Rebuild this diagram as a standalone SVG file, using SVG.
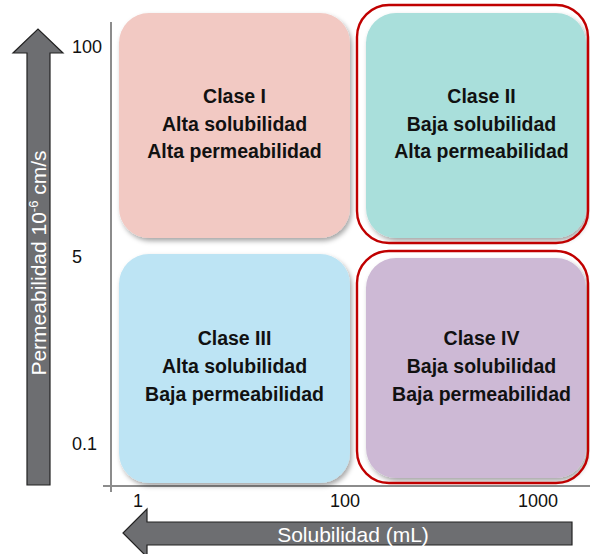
<svg xmlns="http://www.w3.org/2000/svg" width="590" height="554" viewBox="0 0 590 554">
<style>
.box{stroke:none;filter:url(#sh)}
.red{fill:none;stroke:#c00000;stroke-width:2.4}
.t{font-family:"Liberation Sans",Arial,sans-serif;font-weight:bold;font-size:19.5px;fill:#111;text-anchor:middle}
.ax{font-family:"Liberation Sans",Arial,sans-serif;font-size:18px;fill:#111}
.arr{fill:#6d6e71;stroke:#222;stroke-width:1.2}
.lab{font-family:"Liberation Sans",Arial,sans-serif;font-size:21px;fill:#fff}
</style>
<defs>
<filter id="sh" x="-10%" y="-10%" width="125%" height="125%">
<feDropShadow dx="2" dy="3" stdDeviation="2.5" flood-color="#000" flood-opacity="0.35"/>
</filter>
</defs>
<rect width="590" height="554" fill="#fff"/>
<g id="connectors">
<line x1="111" y1="22" x2="111" y2="492" stroke="#8c8c8c" stroke-width="2"/>
<line x1="103" y1="486" x2="590" y2="486" stroke="#8c8c8c" stroke-width="2"/>
</g>
<g id="yaxis">
<path class="arr" d="M27,485 L27,53 L13,53 L38,29 L63,53 L50,53 L50,485 Z"/>
<text class="lab" transform="translate(46,263) rotate(-90)" text-anchor="middle">Permeabilidad 10<tspan font-size="13" dy="-8">-6</tspan><tspan dy="8"> cm/s</tspan></text>
<text class="ax" x="72" y="53">100</text>
<text class="ax" x="72" y="263">5</text>
<text class="ax" x="72" y="450">0.1</text>
</g>
<g id="xaxis">
<path class="arr" d="M572,522 L147,522 L147,509 L123,533 L147,557 L147,545 L572,545 Z"/>
<text class="lab" x="353" y="542" text-anchor="middle" font-size="21.5">Solubilidad (mL)</text>
<text class="ax" x="138" y="507" text-anchor="middle">1</text>
<text class="ax" x="345" y="507" text-anchor="middle">100</text>
<text class="ax" x="538" y="507" text-anchor="middle">1000</text>
</g>
<g id="clase1">
<rect class="box" x="119" y="13" width="231" height="225" rx="30" fill="#f2c9c3"/>
<text class="t" x="234.5" y="103">Clase I</text>
<text class="t" x="234.5" y="131">Alta solubilidad</text>
<text class="t" x="234.5" y="158">Alta permeabilidad</text>
</g>
<g id="clase2">
<rect class="box" x="366" y="13" width="220" height="225" rx="30" fill="#a9dfdb"/>
<rect class="red" x="357" y="5" width="231" height="238" rx="32"/>
<text class="t" x="481.5" y="103">Clase II</text>
<text class="t" x="481.5" y="131">Baja solubilidad</text>
<text class="t" x="481.5" y="158">Alta permeabilidad</text>
</g>
<g id="clase3">
<rect class="box" x="119" y="254" width="231" height="229" rx="30" fill="#bde4f4"/>
<text class="t" x="234.5" y="345">Clase III</text>
<text class="t" x="234.5" y="373">Alta solubilidad</text>
<text class="t" x="234.5" y="401">Baja permeabilidad</text>
</g>
<g id="clase4">
<rect class="box" x="366" y="258" width="220" height="220" rx="30" fill="#cdb9d5"/>
<rect class="red" x="357" y="251" width="231" height="232" rx="32"/>
<text class="t" x="481.5" y="345">Clase IV</text>
<text class="t" x="481.5" y="373">Baja solubilidad</text>
<text class="t" x="481.5" y="401">Baja permeabilidad</text>
</g>
</svg>
